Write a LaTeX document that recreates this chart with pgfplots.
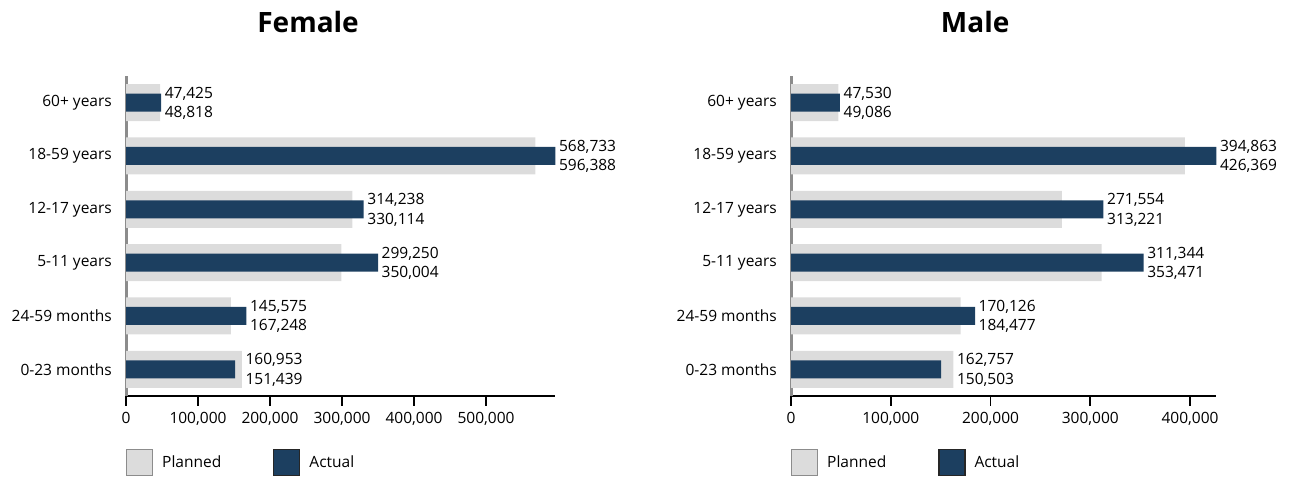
\documentclass[border=0pt]{standalone}
\usepackage{pgfplots}
\pgfplotsset{compat=1.18}
\usepackage{pgfplotstable}
\usepackage{fontspec}
\setmainfont{Open Sans}
\definecolor{plan}{HTML}{DCDCDC}
\definecolor{act}{HTML}{1C3F60}
\definecolor{yaxis}{HTML}{8C8C8C}
\newcommand\lf{\fontsize{15.5bp}{18.6bp}\selectfont}

\pgfplotstableread{
y planned actual maxv plab alab
0 160953 151439 160953 160,953 151,439
1 145575 167248 167248 145,575 167,248
2 299250 350004 350004 299,250 350,004
3 314238 330114 330114 314,238 330,114
4 568733 596388 596388 568,733 596,388
5 47425 48818 48818 47,425 48,818
}\female

\pgfplotstableread{
y planned actual maxv plab alab
0 162757 150503 162757 162,757 150,503
1 170126 184477 184477 170,126 184,477
2 311344 353471 353471 311,344 353,471
3 271554 313221 313221 271,554 313,221
4 394863 426369 426369 394,863 426,369
5 47530 49086 49086 47,530 49,086
}\male

\pgfplotsset{
  mypanel/.style={
    xbar, bar shift=0pt,
    scale only axis, height=320bp,
    anchor=south west,
    ymin=-0.5, ymax=5.5, xmin=0,
    clip=false,
    ytick={0,1,2,3,4,5},
    yticklabels={0-23 months,24-59 months,5-11 years,12-17 years,18-59 years,60+ years},
    axis x line*=bottom, axis y line*=left,
    x axis line style={black, line width=2bp},
    y axis line style={yaxis, line width=3bp},
    tick align=outside,
    major tick length=10bp,
    xtick style={black, line width=1.6bp},
    ytick style={draw=none},
    scaled x ticks=false,
    tick label style={font=\lf, text=black},
    yticklabel style={inner sep=0pt, xshift=-4bp},
    xticklabel style={inner sep=0pt, yshift=-6bp},
    title style={font=\fontsize{28bp}{32bp}\selectfont\bfseries, anchor=base, inner sep=0pt},
    legend style={draw=none, fill=none, inner sep=0pt, outer sep=0pt,
      at={(axis description cs:0,-0.166)}, anchor=north west,
      legend columns=2, font=\lf,
      nodes={inner sep=0pt},
      /tikz/every odd column/.append style={column sep=9bp},
      /tikz/every even column/.append style={column sep=52bp}},
    legend cell align=left,
  },
  topl/.style={forget plot, draw=none, fill=none, nodes near coords,
    point meta=explicit symbolic,
    nodes near coords style={anchor=base west, inner sep=0pt, xshift=3.5bp, yshift=4.5bp, font=\lf, text=black}},
  botl/.style={forget plot, draw=none, fill=none, nodes near coords,
    point meta=explicit symbolic,
    nodes near coords style={anchor=base west, inner sep=0pt, xshift=3.5bp, yshift=-15bp, font=\lf, text=black}},
}

\begin{document}
\begin{tikzpicture}[x=1bp,y=1bp]
\useasboundingbox (0,0) rectangle (1298,479);

\begin{axis}[mypanel, at={(126bp,83bp)}, width=429.4bp, xmax=596388,
  xtick={0,100000,200000,300000,400000,500000},
  xticklabels={0,{100,000},{200,000},{300,000},{400,000},{500,000}},
  title={Female}, title style={at={(axis description cs:0.424,1)}, yshift=37.5bp}]
\addplot[fill=plan, draw=none, bar width=37bp,
  legend image code/.code={\draw[fill=plan, draw=black!45, line width=1.2bp] (0bp,-13bp) rectangle (26bp,13bp);}]
  table[x=planned, y=y] {\female};
\addlegendentry{Planned}
\addplot[fill=act, draw=none, bar width=18bp,
  legend image code/.code={\draw[fill=act, draw=black!85, line width=1.2bp] (0bp,-13bp) rectangle (26bp,13bp);}]
  table[x=actual, y=y] {\female};
\addlegendentry{Actual}
\addplot[topl] table[x=maxv, y=y, meta=plab] {\female};
\addplot[botl] table[x=maxv, y=y, meta=alab] {\female};
\end{axis}

\begin{axis}[mypanel, at={(791bp,83bp)}, width=425.3bp, xmax=426369,
  xtick={0,100000,200000,300000,400000},
  xticklabels={0,{100,000},{200,000},{300,000},{400,000}},
  title={Male}, title style={at={(axis description cs:0.433,1)}, yshift=37.5bp}]
\addplot[fill=plan, draw=none, bar width=37bp,
  legend image code/.code={\draw[fill=plan, draw=black!45, line width=1.2bp] (0bp,-13bp) rectangle (26bp,13bp);}]
  table[x=planned, y=y] {\male};
\addlegendentry{Planned}
\addplot[fill=act, draw=none, bar width=18bp,
  legend image code/.code={\draw[fill=act, draw=black!85, line width=1.2bp] (0bp,-13bp) rectangle (26bp,13bp);}]
  table[x=actual, y=y] {\male};
\addlegendentry{Actual}
\addplot[topl] table[x=maxv, y=y, meta=plab] {\male};
\addplot[botl] table[x=maxv, y=y, meta=alab] {\male};
\end{axis}
\end{tikzpicture}
\end{document}
